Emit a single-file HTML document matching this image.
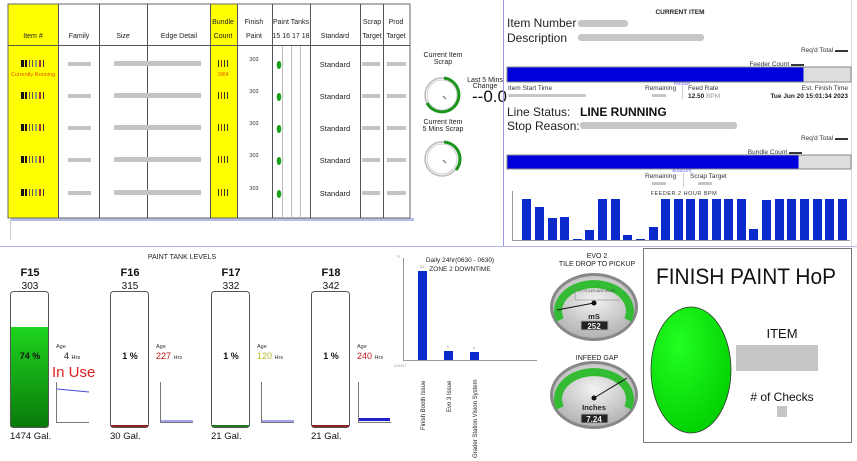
<!DOCTYPE html>
<html><head><meta charset="utf-8"><style>body{margin:0;background:#fff}svg{display:block;font-family:"Liberation Sans",sans-serif}</style></head><body>
<svg width="857" height="461" viewBox="0 0 857 461" xmlns="http://www.w3.org/2000/svg">
<defs>
<linearGradient id="gf" x1="0" y1="0" x2="0" y2="1"><stop offset="0" stop-color="#1ed51e"/><stop offset="1" stop-color="#0a7a0a"/></linearGradient>
<radialGradient id="ge" cx="0.35" cy="0.3" r="0.8"><stop offset="0" stop-color="#22ff22"/><stop offset="1" stop-color="#00cc00"/></radialGradient>
<radialGradient id="gg" cx="0.5" cy="0.4" r="0.7"><stop offset="0" stop-color="#f2f2f2"/><stop offset="1" stop-color="#a8a8a8"/></radialGradient>
</defs>
<!-- table -->
<rect x="10" y="218" width="404" height="3" fill="#b8bde8"/>
<rect x="8" y="4" width="402" height="214" fill="#fff" stroke="#666" stroke-width="1"/>
<rect x="8.5" y="4.5" width="50" height="213" fill="#ffff00"/>
<rect x="210" y="4.5" width="27" height="213" fill="#ffff00"/>
<g stroke="#555" stroke-width="1">
<line x1="58.5" y1="4" x2="58.5" y2="218"/><line x1="99.5" y1="4" x2="99.5" y2="218"/><line x1="147.5" y1="4" x2="147.5" y2="218"/><line x1="210.5" y1="4" x2="210.5" y2="218"/><line x1="237.5" y1="4" x2="237.5" y2="218"/><line x1="272.5" y1="4" x2="272.5" y2="218"/><line x1="310.5" y1="4" x2="310.5" y2="218"/><line x1="360.5" y1="4" x2="360.5" y2="218"/><line x1="383.5" y1="4" x2="383.5" y2="218"/>
<line x1="8" y1="45.5" x2="410" y2="45.5"/>
</g>
<g stroke="#bbb"><line x1="282.5" y1="46" x2="282.5" y2="218"/><line x1="291.5" y1="46" x2="291.5" y2="218"/><line x1="300.5" y1="46" x2="300.5" y2="218"/></g>
<g font-size="7" fill="#222" text-anchor="middle">
<text x="33" y="38">Item #</text><text x="79" y="38">Family</text><text x="123" y="38">Size</text><text x="179" y="38">Edge Detail</text>
<text x="223" y="24">Bundle</text><text x="223" y="38">Count</text><text x="254" y="24">Finish</text><text x="254" y="38">Paint</text>
<text x="291" y="24">Paint Tanks</text><text x="291" y="38">15 16 17 18</text><text x="335" y="38">Standard</text>
<text x="372" y="24">Scrap</text><text x="372" y="38">Target</text><text x="396" y="24">Prod</text><text x="396" y="38">Target</text>
</g>
<text x="33" y="76" font-size="5.5" fill="#e05000" text-anchor="middle">Currently Running</text>
<text x="223" y="76" font-size="5" fill="#e05000" text-anchor="middle">1864</text>
<g id="row">
<rect x="21" y="60" width="3" height="7" fill="#111"/><rect x="25" y="60" width="2" height="7" fill="#111"/><rect x="29" y="60" width="1" height="7" fill="#555"/><rect x="32" y="60" width="1" height="7" fill="#555"/><rect x="35" y="60" width="2" height="7" fill="#8a6"/><rect x="39" y="60" width="2" height="7" fill="#a33"/><rect x="43" y="60" width="1" height="7" fill="#333"/>
<rect x="68" y="62" width="23" height="4" fill="#c4c4c4"/><rect x="114" y="61" width="87" height="5" fill="#c4c4c4"/>
<rect x="218" y="60" width="1" height="7" fill="#333"/><rect x="221" y="60" width="1" height="7" fill="#a33"/><rect x="224" y="60" width="1" height="7" fill="#333"/><rect x="227" y="60" width="1" height="7" fill="#333"/>
<text x="254" y="61" font-size="5.5" fill="#333" text-anchor="middle">303</text>
<ellipse cx="279" cy="65" rx="2.3" ry="4" fill="#1aa01a"/>
<text x="335" y="67" font-size="7.5" fill="#222" text-anchor="middle">Standard</text>
<rect x="362" y="62" width="18" height="4" fill="#c4c4c4"/><rect x="387" y="62" width="19" height="4" fill="#c4c4c4"/>
</g>
<use href="#row" y="32"/><use href="#row" y="64"/><use href="#row" y="96"/><use href="#row" y="129"/>
<line x1="10.5" y1="218" x2="10.5" y2="240" stroke="#ccc"/>
<!-- circle gauges -->
<g font-size="7" fill="#222" text-anchor="middle">
<text x="443" y="57">Current Item</text><text x="443" y="64">Scrap</text>
<text x="443" y="124">Current Item</text><text x="443" y="131">5 Mins Scrap</text>
<text x="485" y="82">Last 5 Mins</text><text x="485" y="88">Change</text>
</g>
<text x="472" y="102" font-size="17" fill="#111">--0.0</text>
<circle cx="442" cy="95" r="17" fill="none" stroke="#bbb" stroke-width="1.5"/><circle cx="442" cy="95" r="15" fill="none" stroke="#ccc" stroke-width="1"/>
<path d="M444 78 A17 17 0 1 1 427 103" fill="none" stroke="#1c951c" stroke-width="3"/>
<circle cx="442" cy="159" r="17" fill="none" stroke="#bbb" stroke-width="1.5"/><circle cx="442" cy="159" r="15" fill="none" stroke="#ccc" stroke-width="1"/>
<path d="M444 142 A17 17 0 0 1 456 170" fill="none" stroke="#1c951c" stroke-width="3"/>
<line x1="443" y1="96" x2="446" y2="99" stroke="#555"/><line x1="443" y1="160" x2="446" y2="163" stroke="#555"/>
<!-- dividers -->
<line x1="503.5" y1="0" x2="503.5" y2="246" stroke="#9a9ae0"/>
<line x1="0" y1="246.5" x2="857" y2="246.5" stroke="#b6b6ee"/>
<line x1="851.5" y1="0" x2="851.5" y2="246" stroke="#ddd"/>
<!-- right top -->
<text x="680" y="14" font-size="6.5" font-weight="bold" fill="#222" text-anchor="middle">CURRENT ITEM</text>
<text x="507" y="27" font-size="12" fill="#222">Item Number</text><text x="507" y="42" font-size="12" fill="#222">Description</text>
<rect x="578" y="20" width="50" height="7" rx="3" fill="#c6c6c6"/><rect x="578" y="34" width="126" height="7" rx="3" fill="#c6c6c6"/>
<g font-size="6.5" fill="#333">
<text x="848" y="52" text-anchor="end">Req'd Total ▬▬</text><text x="804" y="66" text-anchor="end">Feeder Count ▬▬</text>
<text x="508" y="90">Item Start Time</text><text x="645" y="90">Remaining</text><text x="688" y="90">Feed Rate</text><text x="848" y="90" text-anchor="end">Est. Finish Time</text>
<text x="848" y="140" text-anchor="end">Req'd Total ▬▬</text><text x="802" y="154" text-anchor="end">Bundle Count ▬▬</text>
<text x="645" y="178">Remaining</text><text x="690" y="178">Scrap Target</text>
</g>
<g font-size="6.5" font-weight="bold" fill="#222"><text x="688" y="98">12.50 <tspan font-weight="normal" fill="#999">BPM</tspan></text><text x="848" y="98" text-anchor="end">Tue Jun 20 15:01:34 2023</text></g>
<rect x="508" y="94" width="78" height="3" rx="1.5" fill="#c6c6c6"/><rect x="652" y="94" width="14" height="3" fill="#c6c6c6"/><rect x="652" y="182" width="14" height="3" fill="#c6c6c6"/><rect x="698" y="182" width="14" height="3" fill="#c6c6c6"/>
<line x1="682.5" y1="85" x2="682.5" y2="99" stroke="#ccc"/><line x1="683.5" y1="173" x2="683.5" y2="187" stroke="#ccc"/>
<rect x="507" y="67" width="344" height="15" fill="#ddd" stroke="#888"/><rect x="507.5" y="67.5" width="296" height="14" fill="#0000dd"/>
<rect x="507" y="155" width="344" height="14" fill="#ddd" stroke="#888"/><rect x="507.5" y="155.5" width="291" height="13" fill="#0000dd"/>
<text x="682" y="85" font-size="4" fill="#55f" text-anchor="middle">FEEDER</text><text x="682" y="172" font-size="4" fill="#55f" text-anchor="middle">BUNDLES</text>
<text x="507" y="116" font-size="12" fill="#222">Line Status:</text><text x="580" y="116" font-size="12" font-weight="bold" fill="#111">LINE RUNNING</text>
<text x="507" y="130" font-size="12" fill="#222">Stop Reason:</text><rect x="580" y="122" width="157" height="7" rx="3" fill="#c6c6c6"/>
<text x="684" y="195" font-size="5.5" fill="#333" text-anchor="middle" letter-spacing="0.5">FEEDER 2 HOUR BPM</text>
<line x1="512.5" y1="191" x2="512.5" y2="240" stroke="#999"/><line x1="512" y1="240.5" x2="850" y2="240.5" stroke="#999"/>
<g fill="#0a2acc">
<rect x="522" y="199" width="9" height="41"/><rect x="535" y="207" width="9" height="33"/><rect x="548" y="218" width="9" height="22"/><rect x="560" y="217" width="9" height="23"/><rect x="573" y="239" width="9" height="1"/><rect x="585" y="230" width="9" height="10"/><rect x="598" y="199" width="9" height="41"/><rect x="611" y="199" width="9" height="41"/><rect x="623" y="235" width="9" height="5"/><rect x="636" y="239" width="9" height="1"/><rect x="649" y="227" width="9" height="13"/><rect x="661" y="199" width="9" height="41"/><rect x="674" y="199" width="9" height="41"/><rect x="686" y="199" width="9" height="41"/><rect x="699" y="199" width="9" height="41"/><rect x="712" y="199" width="9" height="41"/><rect x="724" y="199" width="9" height="41"/><rect x="737" y="199" width="9" height="41"/><rect x="749" y="229" width="9" height="11"/><rect x="762" y="200" width="9" height="40"/><rect x="775" y="199" width="9" height="41"/><rect x="787" y="199" width="9" height="41"/><rect x="800" y="199" width="9" height="41"/><rect x="813" y="199" width="9" height="41"/><rect x="825" y="199" width="9" height="41"/><rect x="838" y="199" width="9" height="41"/>
</g>
<!-- paint tanks -->
<text x="182" y="259" font-size="7" fill="#222" text-anchor="middle">PAINT TANK LEVELS</text>
<g font-size="11" fill="#111" text-anchor="middle">
<text x="30" y="276" font-weight="bold">F15</text><text x="30" y="289" font-size="10">303</text>
<text x="130" y="276" font-weight="bold">F16</text><text x="130" y="289" font-size="10">315</text>
<text x="231" y="276" font-weight="bold">F17</text><text x="231" y="289" font-size="10">332</text>
<text x="331" y="276" font-weight="bold">F18</text><text x="331" y="289" font-size="10">342</text>
</g>
<rect x="10.5" y="327" width="38" height="100" fill="url(#gf)"/>
<g fill="none" stroke="#555"><rect x="10.5" y="291.5" width="38" height="136" rx="3"/><rect x="110.5" y="291.5" width="38" height="136" rx="3"/><rect x="211.5" y="291.5" width="38" height="136" rx="3"/><rect x="311.5" y="291.5" width="38" height="136" rx="3"/></g>
<rect x="111" y="425" width="37" height="2" fill="#8a2020"/><rect x="212" y="425" width="37" height="2" fill="#1c7a1c"/><rect x="312" y="425" width="37" height="2" fill="#8a2020"/>
<g font-size="9" font-weight="bold" fill="#111" text-anchor="middle"><text x="30" y="359">74 %</text><text x="130" y="359">1 %</text><text x="231" y="359">1 %</text><text x="331" y="359">1 %</text></g>
<g font-size="9.5" fill="#111"><text x="10" y="439">1474 Gal.</text><text x="110" y="439">30 Gal.</text><text x="211" y="439">21 Gal.</text><text x="311" y="439">21 Gal.</text></g>
<g font-size="5.5" fill="#333"><text x="56" y="348">Age</text><text x="156" y="348">Age</text><text x="257" y="348">Age</text><text x="357" y="348">Age</text></g>
<g font-size="9"><text x="64" y="359" fill="#111">4 <tspan font-size="5.5">Hrs</tspan></text><text x="156" y="359" fill="#c01818">227 <tspan font-size="5.5" fill="#333">Hrs</tspan></text><text x="257" y="359" fill="#b8b820">120 <tspan font-size="5.5" fill="#333">Hrs</tspan></text><text x="357" y="359" fill="#c01818">240 <tspan font-size="5.5" fill="#333">Hrs</tspan></text></g>
<text x="52" y="377" font-size="15" fill="#e02020">In Use</text>
<g fill="none" stroke="#777"><path d="M56.5 382 V422.5 H89"/><path d="M160.5 382 V422.5 H193"/><path d="M261.5 382 V422.5 H294"/><path d="M358.5 382 V422.5 H391"/></g>
<path d="M57 389 L89 392" stroke="#4848d8" fill="none"/><line x1="161" y1="421" x2="193" y2="421" stroke="#4848d8"/><line x1="262" y1="421" x2="294" y2="421" stroke="#4848d8"/>
<rect x="359" y="418" width="31" height="3" fill="#2222cc"/>
<!-- downtime chart -->
<text x="460" y="262" font-size="6.5" fill="#222" text-anchor="middle">Daily 24hr(0630 - 0630)</text><text x="460" y="271" font-size="6.5" fill="#222" text-anchor="middle">ZONE 2 DOWNTIME</text>
<path d="M403.5 258 V360.5 H537" fill="none" stroke="#999"/>
<rect x="418" y="271" width="9" height="89" fill="#0a2acc"/><rect x="444" y="351" width="9" height="9" fill="#0a2acc"/><rect x="470" y="352" width="9" height="8" fill="#0a2acc"/>
<g font-size="3.5" fill="#999" text-anchor="middle"><text x="422" y="268">63</text><text x="448" y="348">6</text><text x="474" y="349">6</text><text x="398" y="258">73</text><text x="400" y="367">COUNT</text></g>
<g font-size="6" fill="#222"><text transform="translate(425,430) rotate(-90)">Finish Booth Issue</text><text transform="translate(451,412) rotate(-90)">Evo 3 Issue</text><text transform="translate(477,458) rotate(-90)">Grader Station Vision System</text></g>
<!-- dial gauges -->
<text x="597" y="258" font-size="7" fill="#222" text-anchor="middle">EVO 2</text><text x="597" y="266" font-size="7" fill="#222" text-anchor="middle">TILE DROP TO PICKUP</text>
<text x="597" y="360" font-size="7" fill="#222" text-anchor="middle">INFEED GAP</text>
<g id="gauge">
<ellipse cx="594" cy="307" rx="44" ry="34" fill="#888"/><ellipse cx="594" cy="307" rx="41" ry="31" fill="url(#gg)"/>
<path d="M560 320 A36 27 0 1 1 628 320" fill="none" stroke="#33bb33" stroke-width="8"/>
</g>
<use href="#gauge" y="88"/>
<path d="M575 286 V300 H620" fill="none" stroke="#777" stroke-width="0.5"/><text x="597" y="292" font-size="3.5" fill="#444" text-anchor="middle">3 CYCLES AVG VALUE</text>
<line x1="557" y1="310" x2="594" y2="303" stroke="#111" stroke-width="1"/><circle cx="594" cy="303" r="2.5" fill="#111"/>
<line x1="594" y1="398" x2="627" y2="378" stroke="#111" stroke-width="1"/><circle cx="594" cy="398" r="2.5" fill="#111"/>
<text x="594" y="319" font-size="7.5" font-weight="bold" fill="#222" text-anchor="middle">mS</text>
<text x="594" y="410" font-size="7.5" font-weight="bold" fill="#222" text-anchor="middle">Inches</text>
<rect x="581" y="321" width="27" height="9" fill="#222" stroke="#aaa"/><text x="594" y="329" font-size="8" fill="#eee" text-anchor="middle" font-weight="bold">252</text>
<rect x="581" y="414" width="27" height="9" fill="#222" stroke="#aaa"/><text x="594" y="422" font-size="8" fill="#eee" text-anchor="middle" font-weight="bold">7.24</text>
<!-- finish paint HoP -->
<rect x="643.5" y="248.5" width="208" height="194" fill="#fff" stroke="#777"/>
<text x="656" y="284" font-size="22" fill="#111" textLength="180" lengthAdjust="spacingAndGlyphs">FINISH PAINT HoP</text>
<ellipse cx="691" cy="370" rx="40" ry="63" fill="url(#ge)" stroke="#333" stroke-width="0.8"/>
<text x="782" y="338" font-size="13" fill="#111" text-anchor="middle">ITEM</text>
<rect x="736" y="345" width="82" height="26" fill="#c6c6c6"/>
<text x="782" y="401" font-size="12" fill="#111" text-anchor="middle"># of Checks</text>
<rect x="777" y="406" width="10" height="11" fill="#c6c6c6"/>
</svg>
</body></html>
